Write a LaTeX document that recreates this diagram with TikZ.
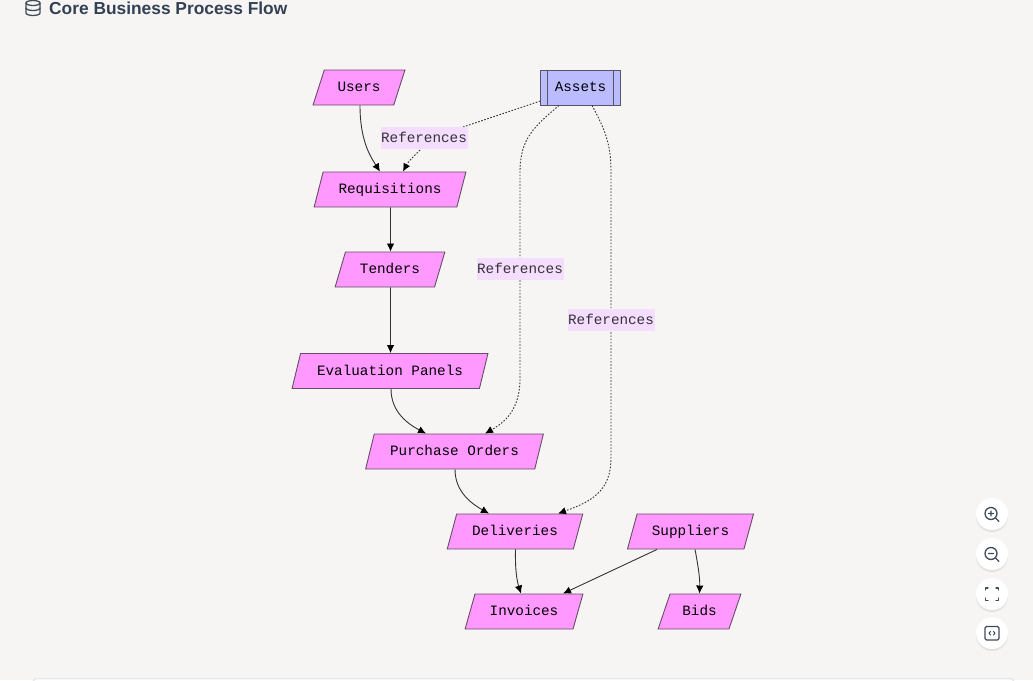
\documentclass[tikz,border=0pt]{standalone}
\usepackage{fontspec}
\setmainfont{Liberation Sans}
\setsansfont{Liberation Sans}
\setmonofont{Liberation Mono}
\usetikzlibrary{shapes.geometric,shadows,arrows.meta}
\definecolor{pagebg}{HTML}{F6F5F3}
\definecolor{titlecol}{HTML}{334155}
\definecolor{iconcol}{HTML}{3F4A5A}
\definecolor{flowfill}{HTML}{FF99FF}
\definecolor{assetfill}{HTML}{BBBBFF}
\definecolor{labelfill}{HTML}{F4DDFF}
\definecolor{edgecol}{HTML}{333333}
\definecolor{panelline}{HTML}{E2E8F0}
\begin{document}
\begin{tikzpicture}[x=1pt,y=-1pt,>={Latex[length=8pt,width=7.5pt,color=black]},
every node/.style={inner sep=0pt,font=\ttfamily\fontsize{14.3}{16}\selectfont,text=black,text height=11pt,text depth=2.6pt},
flowbox/.style={trapezium,trapezium left angle=63,trapezium right angle=117,trapezium stretches=true,
  draw=edgecol!75!flowfill,fill=flowfill,line width=.9pt,minimum height=35pt},
assetbox/.style={rectangle,draw=edgecol!75!assetfill,fill=assetfill,line width=.9pt,minimum width=79.5pt,minimum height=35pt},
solidedge/.style={->,draw=edgecol,line width=.9pt},
refedge/.style={->,draw=edgecol,line width=.9pt,dash pattern=on 1.6pt off 1.6pt},
reflabel/.style={fill=labelfill,text=edgecol,minimum width=87pt,minimum height=22pt},
toolbtn/.style={circle,fill=white,minimum size=32pt,drop shadow={shadow xshift=0pt,shadow yshift=-2pt,opacity=.08,fill=black}},
iconline/.style={draw=iconcol,line width=1.3pt,line cap=round,line join=round}]

\useasboundingbox[fill=pagebg] (0,0) rectangle (1033,680);

% heading
\node[anchor=base west,font=\sffamily\bfseries\fontsize{17.35}{20}\selectfont,text=titlecol,text height=,text depth=] (heading) at (49,14) {Core Business Process Flow};
\draw[iconline] (26,3) -- (26,13) arc[start angle=180,end angle=360,x radius=7,y radius=-2.5] -- (40,3);
\draw[iconline] (33,3) ellipse[x radius=7,y radius=2.5];
\draw[iconline] (26,8) arc[start angle=180,end angle=360,x radius=7,y radius=-2.5];

% flow nodes
\node[flowbox,minimum width=92pt] (users) at (359,87.5) {Users};
\node[assetbox] (assets) at (580.5,87.5) {Assets};
\draw[draw=edgecol!75!assetfill,line width=.9pt] ([xshift=7pt]assets.north west) -- ([xshift=7pt]assets.south west);
\draw[draw=edgecol!75!assetfill,line width=.9pt] ([xshift=-7pt]assets.north east) -- ([xshift=-7pt]assets.south east);
\node[flowbox,minimum width=152pt] (requisitions) at (390,189.5) {Requisitions};
\node[flowbox,minimum width=110pt] (tenders) at (390,269.5) {Tenders};
\node[flowbox,minimum width=196pt] (panels) at (390,371) {Evaluation Panels};
\node[flowbox,minimum width=178pt] (orders) at (454.5,451.5) {Purchase Orders};
\node[flowbox,minimum width=136pt] (deliveries) at (515,531.5) {Deliveries};
\node[flowbox,minimum width=127pt] (suppliers) at (690.5,531.5) {Suppliers};
\node[flowbox,minimum width=118pt] (invoices) at (524,611.5) {Invoices};
\node[flowbox,minimum width=83pt] (bids) at (699.5,611.5) {Bids};

% solid edges
\draw[solidedge] ([xshift=1pt]users.south) .. controls (360,140) and (370,156) .. ([xshift=-10pt]requisitions.north);
\draw[solidedge] ([xshift=.5pt]requisitions.south) -- ([xshift=.5pt]tenders.north);
\draw[solidedge] ([xshift=.5pt]tenders.south) -- ([xshift=.5pt]panels.north);
\draw[solidedge] ([xshift=1pt]panels.south) .. controls (391,412) and (408,424) .. ([xshift=-28.5pt]orders.north);
\draw[solidedge] ([xshift=.5pt]orders.south) .. controls (455,492) and (472,504) .. ([xshift=-26pt]deliveries.north);
\draw[solidedge] ([xshift=.5pt]deliveries.south) .. controls (515,570) and (517,581) .. ([xshift=-3pt]invoices.north);
\draw[solidedge] ([xshift=-33.5pt]suppliers.south) -- ([xshift=39pt]invoices.north);
\draw[solidedge] ([xshift=4.5pt]suppliers.south) .. controls (698,565) and (700,578) .. (bids.north);

% dotted edges with labels
\draw[refedge] ([yshift=-13.5pt]assets.west) -- (463,127) -- (424,138) node[reflabel] (refone) {References}
  (420,150) .. controls (414,156) and (408,162) .. ([xshift=13pt]requisitions.north);
\draw[refedge] ([xshift=-21.5pt]assets.south) .. controls (535,126) and (520,138) .. (520,172) -- (520,269) node[reflabel] (reftwo) {References}
  -- (520,378) .. controls (520,410) and (505,422) .. ([xshift=30.5pt]orders.north);
\draw[refedge] ([xshift=11.5pt]assets.south) .. controls (604,128) and (611,142) .. (611,172) -- (611,320) node[reflabel] (refthree) {References}
  -- (611,458) .. controls (611,492) and (590,502) .. ([xshift=43pt]deliveries.north);

% toolbar
\node[toolbtn] (zoomin) at (992,514) {};
\node[toolbtn] (zoomout) at (992,554) {};
\node[toolbtn] (fitview) at (992,594) {};
\node[toolbtn] (source) at (992,633) {};
\draw[iconline] (991,513.5) circle[radius=6] (995.5,518) -- (999,521.5) (988.5,513.5) -- (993.5,513.5) (991,511) -- (991,516);
\draw[iconline] (991,553.5) circle[radius=6] (995.5,558) -- (999,561.5) (988.5,553.5) -- (993.5,553.5);
\draw[iconline] (985.5,590) -- (985.5,588) -- (988,588) (996,588) -- (998.5,588) -- (998.5,590)
  (998.5,598) -- (998.5,600.5) -- (996,600.5) (988,600.5) -- (985.5,600.5) -- (985.5,598);
\draw[iconline,rounded corners=1.5pt] (985,626.5) rectangle (999,640);
\draw[iconline,line width=1pt] (990.5,631.5) -- (989,633.2) -- (990.5,635) (993.5,631.5) -- (995,633.2) -- (993.5,635);

% panel below
\fill[white,draw=panelline,line width=1.5pt,rounded corners=3.5pt] (33,690) -- (33,678.5) -- (1014,678.5) -- (1014,690) -- cycle;
\end{tikzpicture}
\end{document}
